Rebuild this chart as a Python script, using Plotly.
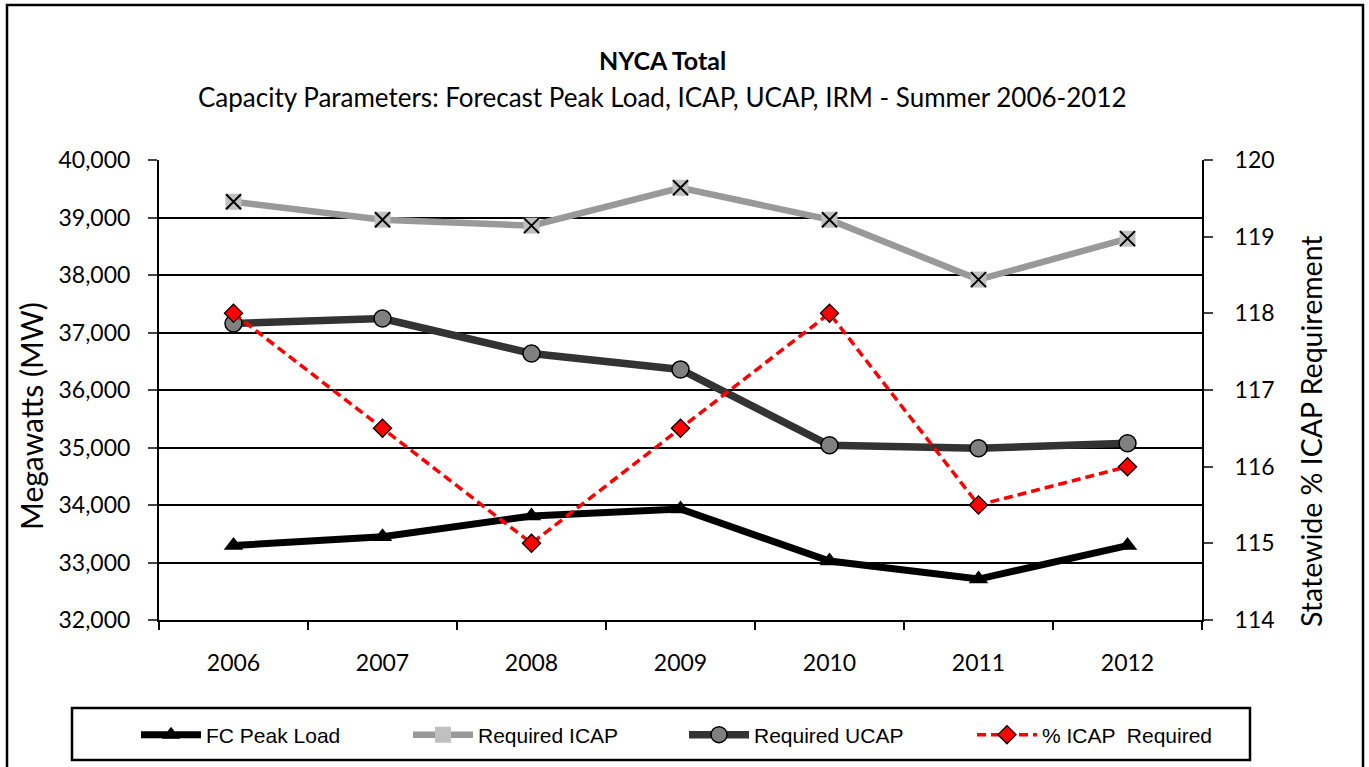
import plotly.graph_objects as go

# ---------------------------------------------------------------------------
# Data
# ---------------------------------------------------------------------------
years = ["2006", "2007", "2008", "2009", "2010", "2011", "2012"]
fc_peak_load = [33295, 33447, 33809, 33930, 33025, 32712, 33295]
required_icap = [39274, 38962, 38858, 39517, 38962, 37920, 38632]
required_ucap = [37156, 37243, 36635, 36358, 35038, 34986, 35073]
pct_icap_required = [118.0, 116.5, 115.0, 116.5, 118.0, 115.5, 116.0]

left_ticks = [32000, 33000, 34000, 35000, 36000, 37000, 38000, 39000, 40000]
right_ticks = [114, 115, 116, 117, 118, 119, 120]

FONT = "Lato, 'Open Sans', sans-serif"
LEGEND_FONT = "'Liberation Sans', Arial, sans-serif"

# plot area in pixels, used to place titles, legends and frames
W, H = 1369, 767
L, R, T, B = 159, 167, 160, 147
PW, PH = W - L - R, H - T - B


def px_x(x):
    return (x - L) / PW


def px_y(y):
    return (H - B - y) / PH


x = list(range(len(years)))

fig = go.Figure()

fig.add_trace(go.Scatter(
    x=x, y=fc_peak_load, name="FC Peak Load", mode="lines+markers",
    legend="legend",
    line=dict(color="#000000", width=7),
    marker=dict(symbol="triangle-up", size=17, color="#000000"),
))
fig.add_trace(go.Scatter(
    x=x, y=required_icap, name="Required ICAP", mode="lines+markers",
    legend="legend2",
    line=dict(color="#999999", width=6.5),
    marker=dict(symbol="square", size=16, color="#c0c0c0"),
))
# black cross drawn over the grey squares
fig.add_trace(go.Scatter(
    x=x, y=required_icap, mode="markers", showlegend=False,
    hoverinfo="skip",
    marker=dict(symbol="x-thin-open", size=15, color="#000000",
                line=dict(color="#000000", width=2)),
))
fig.add_trace(go.Scatter(
    x=x, y=required_ucap, name="Required UCAP", mode="lines+markers",
    legend="legend3",
    line=dict(color="#333333", width=7.5),
    marker=dict(symbol="circle", size=17, color="#808080",
                line=dict(color="#000000", width=1.5)),
))
fig.add_trace(go.Scatter(
    x=x, y=pct_icap_required, name="% ICAP  Required", mode="lines+markers",
    yaxis="y2", legend="legend4",
    line=dict(color="#ff0000", width=3.5, dash="9px,5px"),
    marker=dict(symbol="diamond", size=14, color="#ff0000",
                line=dict(color="#000000", width=1.3)),
))


def legend_at(text_x):
    return dict(
        orientation="h", x=px_x(text_x - 72), xanchor="left",
        y=px_y(735), yanchor="middle",
        font=dict(family=LEGEND_FONT, size=21),
        itemwidth=60, bgcolor="rgba(0,0,0,0)",
    )


fig.update_layout(
    width=W, height=H,
    margin=dict(l=L, r=R, t=T, b=B),
    paper_bgcolor="white", plot_bgcolor="white",
    font=dict(family=FONT, size=23, color="#000000"),
    xaxis=dict(
        range=[-0.5, 6.5], tickvals=x, ticktext=years, ticks="",
        showgrid=False, zeroline=False, automargin=False,
        showline=True, linecolor="#000000", linewidth=2,
        tickfont=dict(size=23), ticklabelstandoff=21,
        minor=dict(tickvals=[i - 0.5 for i in range(len(years) + 1)],
                   ticks="outside", ticklen=8, tickcolor="#000000",
                   tickwidth=1.5, showgrid=False),
    ),
    yaxis=dict(
        range=[32000, 40000], tickvals=left_ticks, tickformat=",d",
        showgrid=True, gridcolor="#000000", gridwidth=1.5,
        zeroline=False, automargin=False,
        showline=True, linecolor="#000000", linewidth=2,
        ticks="outside", ticklen=9, tickwidth=1.5,
        tickfont=dict(size=23), ticklabelstandoff=13,
    ),
    yaxis2=dict(
        range=[114, 120], tickvals=right_ticks, overlaying="y", side="right",
        showgrid=False, zeroline=False, automargin=False,
        showline=True, linecolor="#000000", linewidth=2,
        ticks="outside", ticklen=9, tickwidth=1.5,
        tickfont=dict(size=23), ticklabelstandoff=17,
    ),
    legend=legend_at(208),
    legend2=legend_at(480),
    legend3=legend_at(756),
    legend4=legend_at(1044),
    showlegend=True,
)

# titles
fig.add_annotation(text="<b>NYCA Total</b>", xref="paper", yref="paper",
                   x=px_x(662), y=px_y(60), yanchor="middle",
                   showarrow=False, font=dict(size=25))
fig.add_annotation(
    text="Capacity Parameters: Forecast Peak Load, ICAP, UCAP, IRM - "
         "Summer 2006-2012",
    xref="paper", yref="paper", x=px_x(662), y=px_y(97), yanchor="middle",
    showarrow=False, font=dict(size=26))
fig.add_annotation(text="Megawatts (MW)", textangle=-90,
                   xref="paper", yref="paper", x=px_x(31), y=px_y(416),
                   xanchor="center", yanchor="middle",
                   showarrow=False, font=dict(size=30))
fig.add_annotation(text="Statewide % ICAP Requirement", textangle=-90,
                   xref="paper", yref="paper", x=px_x(1311), y=px_y(431),
                   xanchor="center", yanchor="middle",
                   showarrow=False, font=dict(size=28.5))

# outer chart frame and legend box
fig.add_shape(type="rect", xref="paper", yref="paper",
              x0=px_x(7), x1=px_x(1363), y0=px_y(772), y1=px_y(5),
              line=dict(color="#000000", width=2.5), layer="below")
fig.add_shape(type="rect", xref="paper", yref="paper",
              x0=px_x(72), x1=px_x(1250), y0=px_y(760), y1=px_y(708),
              line=dict(color="#000000", width=2.5), layer="below")

# drop the default page margin so the figure sits at the window origin
fig.write_html("out.html", config={"displayModeBar": False},
               post_script="document.body.style.margin='0';")
